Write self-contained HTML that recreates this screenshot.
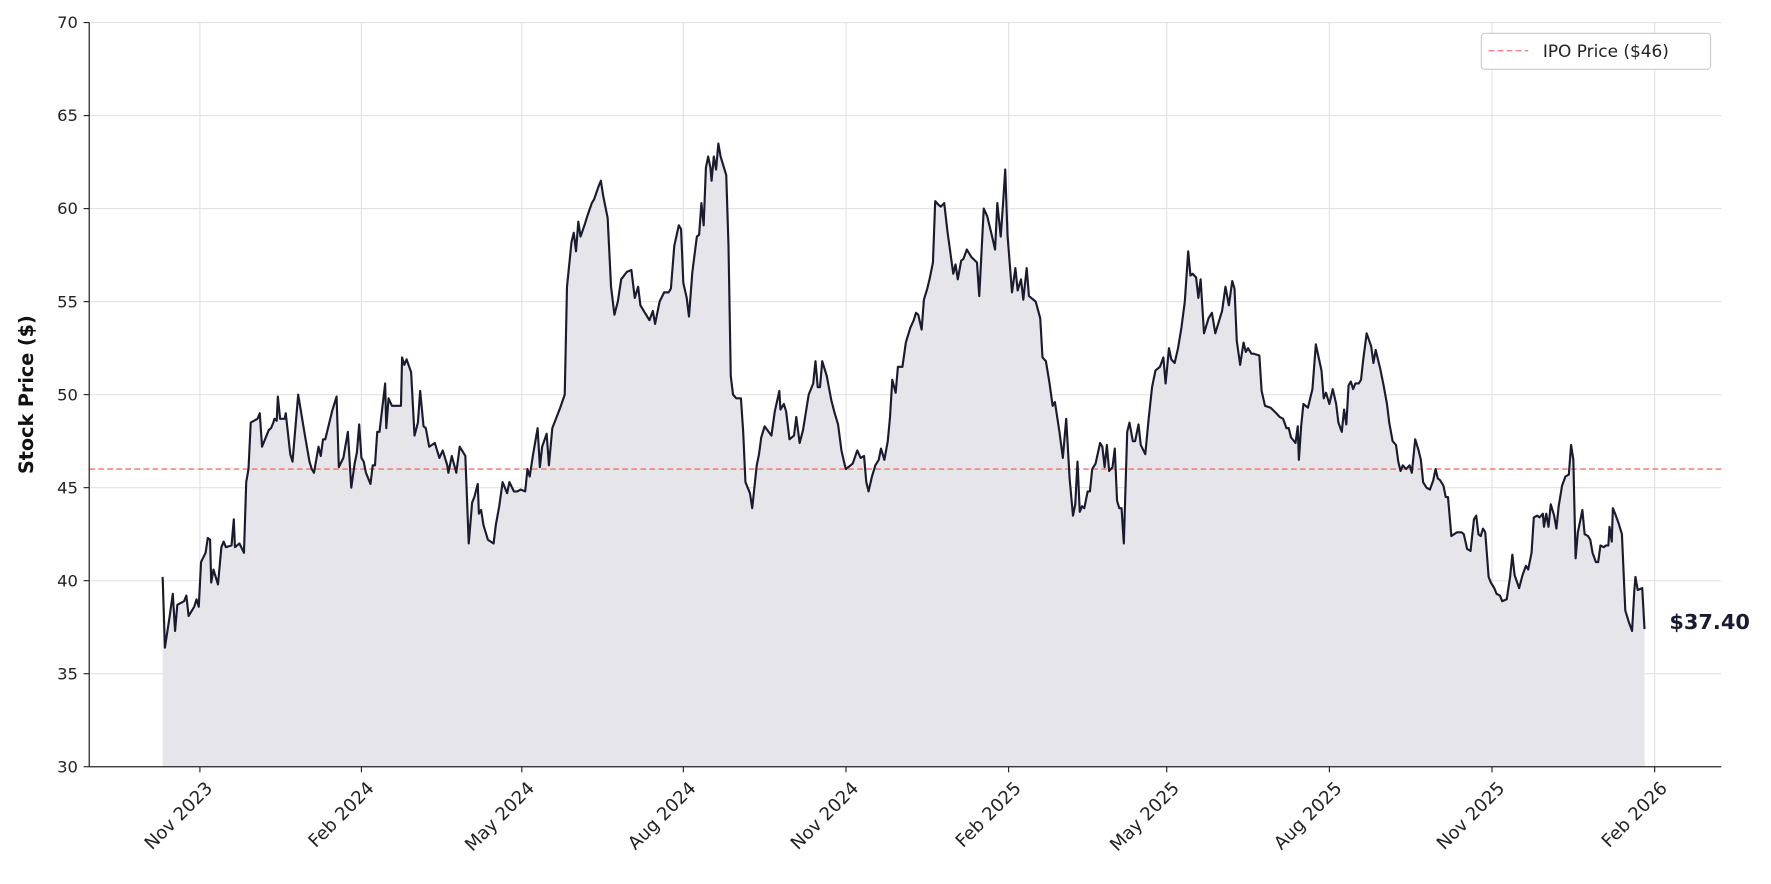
<!DOCTYPE html>
<html><head><meta charset="utf-8"><style>
html,body{margin:0;padding:0;background:#fff;}
svg{display:block;font-family:"DejaVu Sans","Liberation Sans",sans-serif;}
</style></head><body>
<svg id="s" width="1771" height="884" viewBox="0 0 1568 784" preserveAspectRatio="none" xmlns="http://www.w3.org/2000/svg">
<g id="grid" stroke="#e2e2e2" stroke-width="1"></g>
<path id="fill" fill="#e6e6ea" stroke="none"/>
<line x1="79" y1="416" x2="1524" y2="416" stroke="#f07167" stroke-width="1.2" stroke-dasharray="5,3"/>
<path id="line" fill="none" stroke="#1b1b2f" stroke-width="1.9" stroke-linejoin="round"/>
<line x1="79" y1="20" x2="79" y2="680" stroke="#222" stroke-width="1.1"/>
<line x1="79" y1="680" x2="1524" y2="680" stroke="#222" stroke-width="1.1"/>
<g id="ticks" font-size="14.5" fill="#222"></g>
<text transform="translate(29,350) rotate(-90)" text-anchor="middle" font-size="17" font-weight="bold" fill="#111">Stock Price ($)</text>
<text x="1478" y="558" font-size="18.5" font-weight="bold" fill="#1b1b2f">$37.40</text>
<rect x="1311.5" y="29.5" width="203" height="32" rx="3" fill="#fff" stroke="#ccc"/>
<line x1="1318" y1="45" x2="1353" y2="45" stroke="#f07167" stroke-width="1.2" stroke-dasharray="5,3"/>
<text x="1366" y="50.5" font-size="15" fill="#222">IPO Price ($46)</text>
</svg>
<script>
var d=[144,40.2,146,36.4,150,38,153,39.3,155,37.3,157,38.7,163,38.9,165,39.2,167,38.1,170,38.4,172,38.6,174,39,176,38.6,178,41,182,41.5,184,42.3,186,42.2,187,39.9,189,40.6,193,39.8,196,41.8,198,42.1,200,41.8,205,41.9,207,43.3,208,41.8,212,42,216,41.5,218,45.3,220,46,222,48.5,228,48.7,230,49,232,47.2,234,47.5,236,47.8,238,48.1,240,48.2,242,48.5,243,48.7,245,48.6,246,49.9,248,48.7,252,48.7,253,49,257,46.8,259,46.4,264,50,270,47.8,274,46.4,276,46,278,45.8,282,47.2,284,46.7,286,47.6,288,47.6,294,49.1,298,49.9,300,46.1,304,46.6,308,48,311,45,314,46.3,316,46.9,318,48.4,320,46.6,322,46.4,324,45.8,328,45.2,330,46.2,332,46.2,334,48,336,48,341,50.6,342,48.2,344,49.8,347,49.4,355,49.4,356,52,358,51.6,360,51.9,364,51.2,367,47.8,370,48.5,372,50.2,375,48.3,377,48.2,380,47.2,385,47.4,389,46.6,392,47,396,46.2,397,45.8,400,46.7,404,45.8,407,47.2,412,46.7,415,42,418,44.2,420,44.5,423,45.2,424,43.6,426,43.8,428,43,432,42.2,437,42,439,43,442,44,445,45.3,449,44.7,451,45.3,455,44.8,458,44.8,461,44.9,465,44.8,467,46,469,45.6,472,46.8,476,48.2,478,46.1,480,47.2,484,47.9,486,46.2,489,48.2,496,49.3,500,50,502,55.8,504,57,506,58.2,508,58.7,510,57.7,512,59.3,514,58.5,518,59.2,520,59.6,524,60.3,526,60.5,530,61.2,532,61.5,534,60.7,538,59.5,541,55.8,544,54.3,547,55,550,56.2,555,56.6,559,56.7,562,55.2,565,55.8,567,54.8,571,54.4,575,54,578,54.5,580,53.8,584,55,588,55.5,592,55.5,594,55.7,597,58,601,59.1,603,58.9,605,56,608,55.2,610,54.2,613,56.6,617,58.5,619,58.6,621,60.3,623,59.1,625,62.2,627,62.8,629,62.2,630,61.5,632,62.8,634,62.1,636,63.5,638,62.8,641,62.2,643,61.8,645,58,647,51,649,50,652,49.8,656,49.8,658,48,660,45.3,664,44.7,666,43.9,670,46.2,672,46.8,674,47.7,677,48.3,683,47.8,686,49.1,690,50.2,691,49.2,694,49.5,696,49.1,699,47.6,703,47.8,705,48.8,708,47.4,711,48.1,716,50,720,50.6,722,51.8,724,50.4,726,50.4,728,51.8,732,51,736,49.7,739,49,742,48.4,745,47,748,46.2,749,46,755,46.3,759,47,762,46.6,765,46.7,767,45.3,769,44.8,772,45.6,775,46.2,778,46.5,780,47.1,783,46.5,786,47.5,788,48.8,790,50.8,793,50.1,795,51.5,799,51.5,802,52.8,806,53.6,809,54,811,54.4,813,54.3,816,53.5,818,55.1,821,55.7,823,56.2,826,57.1,828,60.4,831,60.2,833,60.1,836,60.3,839,58.7,844,56.5,846,57,848,56.2,851,57.2,853,57.3,856,57.8,860,57.4,865,57.1,867,55.3,871,60,874,59.6,878,58.6,881,57.8,883,60.3,886,58.5,888,60.2,890,62.1,892,58.6,896,55.5,899,56.8,901,55.6,904,56.2,906,55.1,909,56.8,911,55.3,917,55,921,54.1,923,52,926,51.8,929,50.7,932,49.4,934,49.6,938,48,941,46.6,944,48.7,947,45.5,950,43.5,952,44.1,954,46.4,956,43.7,958,44,960,43.9,963,44.8,965,44.8,967,46,970,46.3,974,47.4,976,47.2,978,46.1,980,47.3,982,45.9,985,46.1,987,47.1,989,44.3,991,43.9,993,43.9,995,42,998,48,1000,48.5,1003,47.5,1005,47.5,1008,48.4,1010,47.3,1014,46.8,1017,48.7,1020,50.4,1023,51.3,1027,51.5,1030,52,1032,50.6,1035,52.5,1037,51.9,1040,51.7,1043,52.5,1046,53.6,1049,55,1052,57.7,1054,56.4,1056,56.5,1059,56.3,1061,55.2,1063,56.2,1066,53.3,1070,54.1,1073,54.4,1076,53.3,1079,53.9,1082,54.5,1085,55.8,1088,54.8,1091,56.1,1093,55.7,1095,52.9,1098,51.6,1101,52.8,1103,52.3,1105,52.5,1108,52.2,1110,52.2,1115,52.1,1117,50.2,1120,49.4,1125,49.3,1130,49,1133,48.8,1136,48.7,1139,48.2,1141,48.2,1143,47.7,1147,47.4,1149,48.3,1150,46.5,1152,48.3,1154,49.5,1158,49.3,1162,50.3,1165,52.7,1170,51.3,1172,49.8,1174,50.1,1177,49.5,1180,50.3,1183,49.5,1185,48.5,1188,48,1190,49.2,1192,48.4,1194,50.5,1196,50.7,1198,50.3,1200,50.6,1203,50.6,1205,50.8,1207,51.9,1210,53.3,1214,52.6,1216,51.7,1218,52.4,1222,51.4,1225,50.5,1228,49.5,1230,48.5,1233,47.5,1236,47.3,1238,46.4,1240,45.9,1242,46.2,1245,46,1248,46.2,1250,45.8,1253,47.6,1256,47,1258,46.5,1260,45.3,1263,45,1266,44.9,1269,45.4,1271,46,1273,45.5,1275,45.4,1278,45.1,1280,44.5,1282,44.5,1285,42.4,1290,42.6,1294,42.6,1296,42.5,1299,41.7,1302,41.6,1305,43.3,1307,43.5,1309,42.5,1311,42.4,1313,42.8,1315,42.6,1318,40.2,1320,39.9,1323,39.6,1325,39.3,1328,39.2,1330,38.9,1334,39,1337,40.2,1339,41.4,1341,40.3,1345,39.6,1348,40.3,1351,40.8,1353,40.6,1356,41.5,1358,43.4,1361,43.5,1363,43.4,1366,43.6,1367,42.9,1369,43.6,1371,42.9,1373,44.1,1376,43.5,1378,42.8,1380,44,1383,45.1,1386,45.6,1389,45.7,1391,47.3,1393,46.5,1395,41.2,1397,42.6,1401,43.8,1403,42.5,1406,42.4,1408,42.2,1410,41.5,1413,41,1415,41,1417,41.9,1420,41.8,1422,41.9,1424,41.9,1425,42.9,1427,42.1,1428,43.9,1430,43.6,1433,43.1,1436,42.5,1439,38.4,1442,37.8,1445,37.3,1447,39.5,1448,40.2,1450,39.5,1454,39.6,1456,37.4];
function Y(p){return 680-(p-30)*16.5;}
var s="";for(var i=0;i<d.length;i+=2){s+=(i?"L":"M")+d[i]+","+Y(d[i+1]).toFixed(1);}
document.getElementById("line").setAttribute("d",s);
document.getElementById("fill").setAttribute("d",s+"L1456,680L144,680Z");
var g=document.getElementById("grid"),t=document.getElementById("ticks"),h="";
var xs=[177,320,462,605,749,893,1033,1177,1321,1465],lb=["Nov 2023","Feb 2024","May 2024","Aug 2024","Nov 2024","Feb 2025","May 2025","Aug 2025","Nov 2025","Feb 2026"];
var gh="";
for(var p=35;p<=70;p+=5){gh+='<line x1="79" x2="1524" y1="'+Y(p)+'" y2="'+Y(p)+'"/>';}
xs.forEach(function(x){gh+='<line x1="'+x+'" x2="'+x+'" y1="20" y2="680"/>';});
g.innerHTML=gh;
for(var p=30;p<=70;p+=5){h+='<line x1="74" x2="79" y1="'+Y(p)+'" y2="'+Y(p)+'" stroke="#222"/><text x="69" y="'+(Y(p)+5)+'" text-anchor="end">'+p+'</text>';}
xs.forEach(function(x,i){h+='<line x1="'+x+'" x2="'+x+'" y1="680" y2="685" stroke="#222"/><text transform="translate('+(x+12)+',700) rotate(-45)" text-anchor="end" font-size="16">'+lb[i]+'</text>';});
t.innerHTML=h;
</script>
</body></html>
